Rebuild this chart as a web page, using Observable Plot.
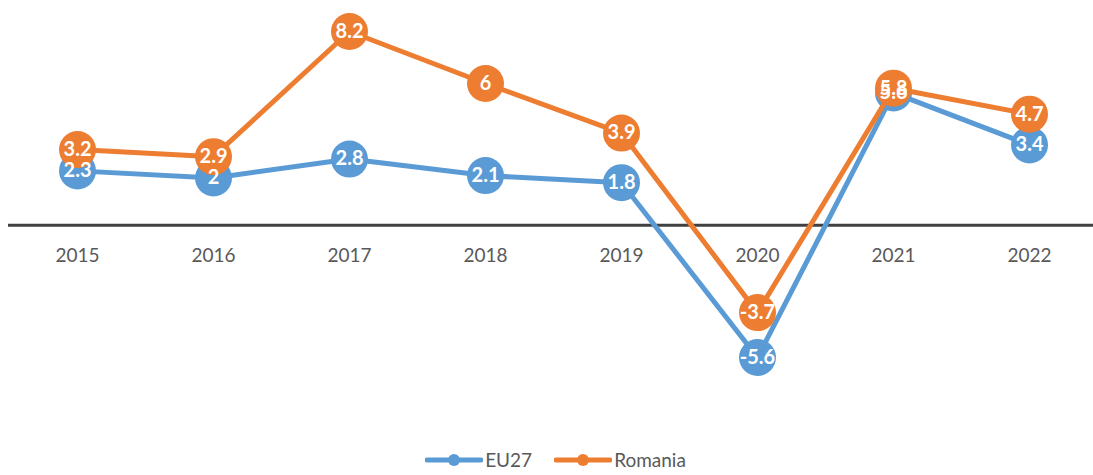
<!DOCTYPE html>
<html><head><meta charset="utf-8">
<script src="https://cdn.jsdelivr.net/npm/d3@7"></script>
<script src="https://cdn.jsdelivr.net/npm/@observablehq/plot@0.6"></script>
<style>
body{margin:0;background:#fff;font-family:Lato,"Open Sans",sans-serif;}
#legend{display:flex;justify-content:center;gap:22px;margin-left:18px;margin-top:6px;font-size:19px;color:#595959;}
#legend span{display:flex;align-items:center;gap:2px;}
</style></head>
<body><div id="chart"></div><div id="legend"></div>
<script>
const years = ["2015","2016","2017","2018","2019","2020","2021","2022"];
const eu27 = [2.3, 2, 2.8, 2.1, 1.8, -5.6, 5.6, 3.4];
const romania = [3.2, 2.9, 8.2, 6, 3.9, -3.7, 5.8, 4.7];
const seriesNames = ["EU27", "Romania"];
const colors = ["#5B9BD5", "#ED7D31"];

const rows = [];
years.forEach((y,i)=>{rows.push({year:y, value:eu27[i], s:"EU27"}); rows.push({year:y, value:romania[i], s:"Romania"});});
const eu = rows.filter(d=>d.s==="EU27"), ro = rows.filter(d=>d.s==="Romania");

const plot = Plot.plot({
  width:1093, height:442,
  marginLeft:8, marginRight:0, marginTop:0, marginBottom:0,
  x:{type:"point", domain:years, range:[75,1031], padding:0, axis:null},
  y:{domain:[-5.6,8.2], range:[357,31], axis:null},
  style:{fontFamily:"Lato, 'Open Sans', sans-serif", background:"#fff"},
  marks:[
    Plot.ruleY([0], {stroke:"#404040", strokeWidth:3}),
    Plot.line(eu, {x:"year", y:"value", stroke:colors[0], strokeWidth:5}),
    Plot.dot(eu, {x:"year", y:"value", r:18.5, fill:colors[0]}),
    Plot.line(ro, {x:"year", y:"value", stroke:colors[1], strokeWidth:5}),
    Plot.dot(ro, {x:"year", y:"value", r:18.5, fill:colors[1]}),
    Plot.text(rows, {x:"year", y:"value", text:d=>String(d.value), fill:"#fff", fontSize:20, fontWeight:"bold"}),
    Plot.text(years, {x:d=>d, y:0, dy:31, text:d=>d, fill:"#595959", fontSize:19})
  ]
});
document.getElementById("chart").appendChild(plot);

const lg = document.getElementById("legend");
seriesNames.forEach((n,i)=>{
  const s=document.createElement("span");
  s.innerHTML=`<svg width="58" height="14"><line x1="2" y1="7" x2="56" y2="7" stroke="${colors[i]}" stroke-width="5" stroke-linecap="round"/><circle cx="29" cy="7" r="6" fill="${colors[i]}"/></svg>${n}`;
  lg.appendChild(s);
});
</script></body></html>
